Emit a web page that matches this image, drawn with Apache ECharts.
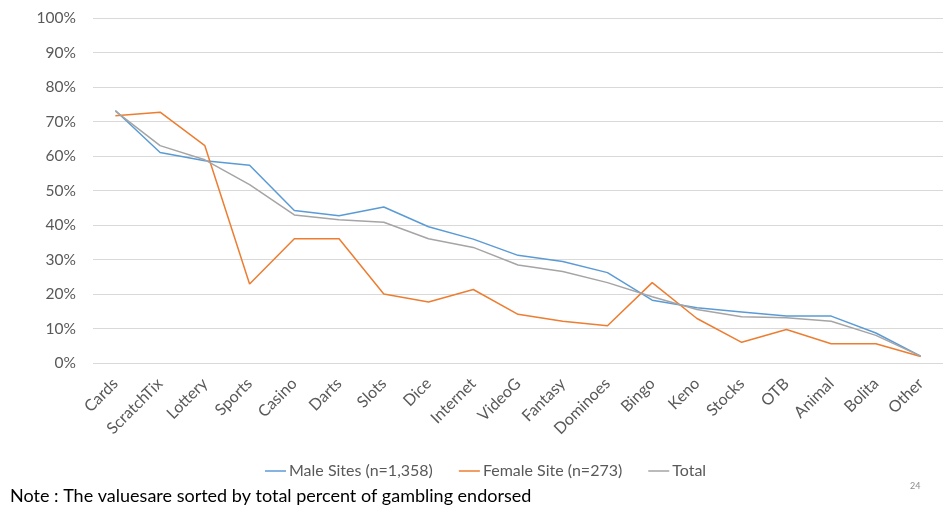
<!DOCTYPE html>
<html>
<head>
<meta charset="utf-8">
<script src="https://cdn.jsdelivr.net/npm/echarts@6/dist/echarts.min.js"></script>
<style>
    html, body { margin: 0; padding: 0; background: #fff; }
    #chart { width: 943px; height: 510px; }
</style>
</head>
<body>
<div id="chart"></div>
<script>
// gambling types, sorted by total
var categories = ['Cards', 'ScratchTix', 'Lottery', 'Sports', 'Casino', 'Darts', 'Slots', 'Dice', 'Internet',
    'VideoG', 'Fantasy', 'Dominoes', 'Bingo', 'Keno', 'Stocks', 'OTB', 'Animal', 'Bolita', 'Other'];

var maleSites = [73.2, 61.0, 58.6, 57.3, 44.2, 42.7, 45.2, 39.5, 35.9, 31.2, 29.4, 26.2, 18.2, 16.0, 14.8, 13.6, 13.6, 8.7, 2.0];
var femaleSite = [71.7, 72.7, 63.0, 22.9, 36.0, 36.0, 20.0, 17.7, 21.3, 14.1, 12.1, 10.8, 23.3, 12.9, 6.0, 9.7, 5.6, 5.6, 1.9];
var total = [73.0, 63.0, 58.9, 51.7, 42.9, 41.5, 40.8, 36.0, 33.5, 28.4, 26.5, 23.3, 19.2, 15.5, 13.4, 13.1, 12.1, 8.0, 2.0];

var yTicks = [0, 10, 20, 30, 40, 50, 60, 70, 80, 90, 100];

var font = 'Lato, "Open Sans", sans-serif';

var myChart = echarts.init(document.getElementById('chart'));

var option = {
    animation: false,
    color: ['#5B9BD5', '#ED7D31', '#A5A5A5'],
    textStyle: { fontFamily: font },
    grid: {
        left: 93,
        right: -11,
        top: 18,
        bottom: 147
    },
    legend: {
        top: 458,
        left: 260,
        icon: 'rect',
        itemWidth: 21,
        itemHeight: 1.5,
        itemGap: 26,
        textStyle: { color: '#595959', fontSize: 16, fontFamily: font, padding: [0, 0, 0, -2] },
        data: ['Male Sites (n=1,358)', 'Female Site (n=273)', 'Total']
    },
    xAxis: {
        type: 'category',
        data: categories,
        boundaryGap: true,
        axisLine: { show: false },
        axisTick: { show: false },
        axisLabel: {
            rotate: 45,
            margin: 18,
            interval: 0,
            color: '#595959',
            fontSize: 16,
            fontFamily: font
        }
    },
    yAxis: {
        type: 'value',
        min: yTicks[0],
        max: yTicks[yTicks.length - 1],
        interval: 10,
        axisLine: { show: false },
        axisTick: { show: false },
        splitLine: { lineStyle: { color: '#D9D9D9', width: 1 } },
        axisLabel: {
            margin: 17,
            color: '#595959',
            fontSize: 15.5,
            fontFamily: font,
            formatter: '{value}%'
        }
    },
    series: [{
            name: 'Male Sites (n=1,358)',
            type: 'line',
            data: maleSites,
            symbol: 'none',
            lineStyle: { width: 1.5 }
        },
        {
            name: 'Female Site (n=273)',
            type: 'line',
            data: femaleSite,
            symbol: 'none',
            lineStyle: { width: 1.5 }
        },
        {
            name: 'Total',
            type: 'line',
            data: total,
            symbol: 'none',
            lineStyle: { width: 1.5 }
        }
    ],
    graphic: [{
            type: 'text',
            left: 10,
            top: 487,
            style: {
                text: 'Note : The valuesare sorted by total percent of gambling endorsed',
                fill: '#000',
                fontSize: 18,
                fontFamily: font
            }
        },
        {
            type: 'text',
            left: 910,
            top: 482,
            style: {
                text: '24',
                fill: '#8c8c8c',
                fontSize: 9,
                fontFamily: font
            }
        }
    ]
};

myChart.setOption(option);
</script>
</body>
</html>
